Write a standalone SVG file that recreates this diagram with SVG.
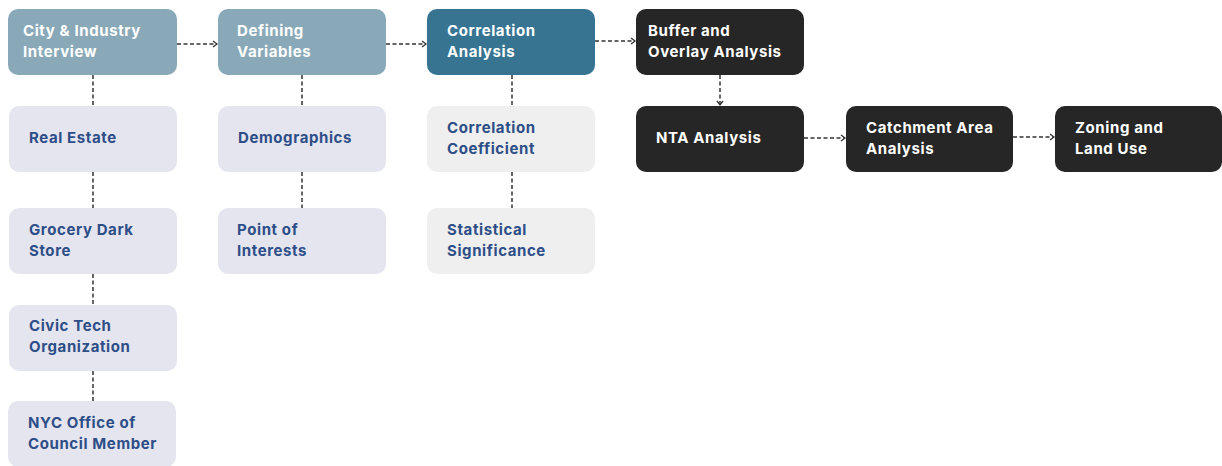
<svg xmlns="http://www.w3.org/2000/svg" width="1222" height="466" viewBox="0 0 1222 466">
<defs>
<style>
.t{font-family:Inter,"Liberation Sans",sans-serif;font-weight:700;font-size:15px;letter-spacing:0.6px}
.w{fill:#ffffff}
.b{fill:#2d4e87}
.c{stroke:#333333;stroke-width:1.5;stroke-dasharray:4 2.5;fill:none}
.top{fill:#8aa9b8}
.cor{fill:#367492}
.dk{fill:#262626}
.lv{fill:#e5e5f0}
.gy{fill:#efefef}
</style>
<marker id="ah" markerWidth="8" markerHeight="8" refX="6" refY="4" orient="auto" markerUnits="userSpaceOnUse">
<path d="M2,1 L6,4 L2,7" fill="none" stroke="#333333" stroke-width="1.3"/>
</marker>
</defs>
<rect width="1222" height="466" fill="#ffffff"/>
<g id="connectors">
<line class="c" x1="177" y1="44" x2="217" y2="44" marker-end="url(#ah)"/>
<line class="c" x1="386" y1="44" x2="426" y2="44" marker-end="url(#ah)"/>
<line class="c" x1="595" y1="41" x2="635" y2="41" marker-end="url(#ah)"/>
<line class="c" x1="720" y1="75" x2="720" y2="105" marker-end="url(#ah)"/>
<line class="c" x1="804" y1="138" x2="845" y2="138" marker-end="url(#ah)"/>
<line class="c" x1="1013" y1="137" x2="1054" y2="137" marker-end="url(#ah)"/>
<line class="c" x1="93" y1="75" x2="93" y2="106"/>
<line class="c" x1="93" y1="172" x2="93" y2="208"/>
<line class="c" x1="93" y1="274" x2="93" y2="305"/>
<line class="c" x1="93" y1="371" x2="93" y2="401"/>
<line class="c" x1="302" y1="75" x2="302" y2="106"/>
<line class="c" x1="302" y1="172" x2="302" y2="208"/>
<line class="c" x1="512" y1="75" x2="512" y2="106"/>
<line class="c" x1="512" y1="172" x2="512" y2="208"/>
</g>
<g id="city">
<rect class="top" x="8" y="9" width="169" height="66" rx="10"/>
<text class="t w" x="23" y="36">City &amp; Industry</text>
<text class="t w" x="23" y="57">Interview</text>
</g>
<g id="defining">
<rect class="top" x="218" y="9" width="168" height="66" rx="10"/>
<text class="t w" x="237" y="36">Defining</text>
<text class="t w" x="237" y="57">Variables</text>
</g>
<g id="correlation">
<rect class="cor" x="427" y="9" width="168" height="66" rx="10"/>
<text class="t w" x="447" y="36">Correlation</text>
<text class="t w" x="447" y="57">Analysis</text>
</g>
<g id="buffer">
<rect class="dk" x="636" y="9" width="168" height="66" rx="10"/>
<text class="t w" x="648" y="36">Buffer and</text>
<text class="t w" x="648" y="57">Overlay Analysis</text>
</g>
<g id="nta">
<rect class="dk" x="636" y="106" width="168" height="66" rx="10"/>
<text class="t w" x="656" y="143">NTA Analysis</text>
</g>
<g id="catchment">
<rect class="dk" x="846" y="106" width="167" height="66" rx="10"/>
<text class="t w" x="866" y="133">Catchment Area</text>
<text class="t w" x="866" y="154">Analysis</text>
</g>
<g id="zoning">
<rect class="dk" x="1055" y="106" width="167" height="66" rx="10"/>
<text class="t w" x="1075" y="133">Zoning and</text>
<text class="t w" x="1075" y="154">Land Use</text>
</g>
<g id="realestate">
<rect class="lv" x="9" y="106" width="168" height="66" rx="10"/>
<text class="t b" x="29" y="143">Real Estate</text>
</g>
<g id="grocery">
<rect class="lv" x="9" y="208" width="168" height="66" rx="10"/>
<text class="t b" x="29" y="235">Grocery Dark</text>
<text class="t b" x="29" y="256">Store</text>
</g>
<g id="civic">
<rect class="lv" x="9" y="305" width="168" height="66" rx="10"/>
<text class="t b" x="29" y="331">Civic Tech</text>
<text class="t b" x="29" y="352">Organization</text>
</g>
<g id="nyc">
<rect class="lv" x="8" y="401" width="168" height="66" rx="10"/>
<text class="t b" x="28" y="428">NYC Office of</text>
<text class="t b" x="28" y="449">Council Member</text>
</g>
<g id="demographics">
<rect class="lv" x="218" y="106" width="168" height="66" rx="10"/>
<text class="t b" x="238" y="143">Demographics</text>
</g>
<g id="poi">
<rect class="lv" x="218" y="208" width="168" height="66" rx="10"/>
<text class="t b" x="237" y="235">Point of</text>
<text class="t b" x="237" y="256">Interests</text>
</g>
<g id="coefficient">
<rect class="gy" x="427" y="106" width="168" height="66" rx="10"/>
<text class="t b" x="447" y="133">Correlation</text>
<text class="t b" x="447" y="154">Coefficient</text>
</g>
<g id="significance">
<rect class="gy" x="427" y="208" width="168" height="66" rx="10"/>
<text class="t b" x="447" y="235">Statistical</text>
<text class="t b" x="447" y="256">Significance</text>
</g>
</svg>
